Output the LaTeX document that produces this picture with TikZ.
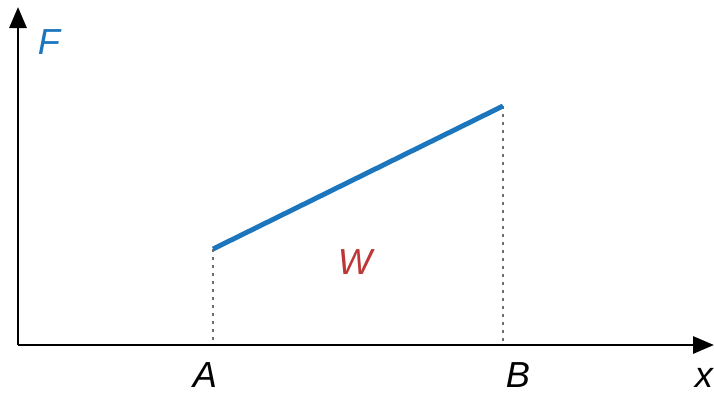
\documentclass[tikz,border=0pt]{standalone}
\usepackage{fontspec}
\setmainfont{Liberation Sans}
\usepackage{xcolor}
\usepackage{tikz}
\usetikzlibrary{arrows.meta,positioning}
\definecolor{forceblue}{RGB}{28,118,190}
\definecolor{workred}{RGB}{190,55,55}
\definecolor{guide}{RGB}{110,110,110}

\begin{document}
\begin{tikzpicture}[font=\fontsize{20.6}{24}\selectfont\itshape]
\tikzset{axis/.style={line width=1.7pt,-{Triangle[length=0.42cm,width=0.34cm]}},
  guideline/.style={guide,line width=1.1pt,dash pattern=on 0.05cm off 0.11cm},
  lbl/.style={inner sep=0pt}}
\useasboundingbox (0,0) rectangle (14.28,7.9);
\coordinate (o) at (0.36,1.0);
\coordinate (ytip) at (0.36,7.76);
\coordinate (xtip) at (14.28,1.0);
\coordinate (pa) at (4.26,2.92);
\coordinate (pb) at (10.06,5.78);
\coordinate (fa) at (4.26,1.0);
\coordinate (fb) at (10.06,1.0);
\draw[axis] (o) -- (ytip);
\draw[axis] (o) -- (xtip);
\draw[guideline] (pa) -- (fa);
\draw[guideline] (pb) -- (fb);
\draw[forceblue,line width=2.8pt] (pa) -- (pb);
\node[lbl,text=forceblue] (f) at (0.98,7.06) {F};
\node[lbl,text=workred] (w) at (7.1,2.66) {W};
\node[lbl] (a) at (4.1,0.4) {A};
\node[lbl] (b) at (10.36,0.4) {B};
\node[lbl] (x) at (14.08,0.34) {x};
\end{tikzpicture}
\end{document}
